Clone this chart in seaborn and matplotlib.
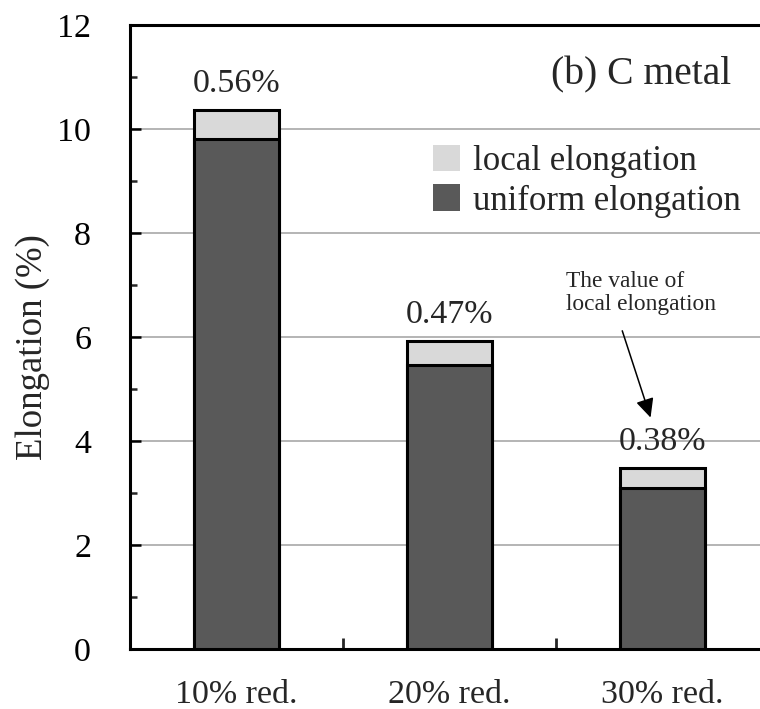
import matplotlib
matplotlib.use("Agg")
import matplotlib.pyplot as plt
from matplotlib.patches import Patch
from matplotlib.ticker import MultipleLocator, FixedLocator
import seaborn as sns

# Elongation after cold reduction, C metal
categories = ["10% red.", "20% red.", "30% red."]
uniform_elongation = [9.80, 5.46, 3.10]
local_elongation = [0.56, 0.47, 0.38]
local_labels = ["0.56%", "0.47%", "0.38%"]
total_elongation = [u + l for u, l in zip(uniform_elongation, local_elongation)]

dark = "#595959"
light = "#d9d9d9"

sns.set_style("white")
plt.rcParams["font.family"] = ["Liberation Serif", "DejaVu Serif"]

fig = plt.figure(figsize=(7.6, 7.09), dpi=100)
ax = fig.add_axes([130 / 760, 1 - 649 / 709, 639 / 760, (649 - 25) / 709])

# Stacked bars: total (light) underneath, uniform part (dark) on top of it
sns.barplot(x=categories, y=total_elongation, color=light, saturation=1,
            width=0.40, edgecolor="black", linewidth=2.2, ax=ax, zorder=2)
sns.barplot(x=categories, y=uniform_elongation, color=dark, saturation=1,
            width=0.40, edgecolor="black", linewidth=2.2, ax=ax, zorder=3)

ax.set_xlim(-0.5, 2.5)
ax.set_ylim(0, 12)
ax.yaxis.set_major_locator(MultipleLocator(2))
ax.yaxis.set_minor_locator(MultipleLocator(1))
ax.xaxis.set_minor_locator(FixedLocator([0.5, 1.5]))

ax.grid(axis="y", which="major", color="#a0a0a0", linewidth=1.1, zorder=0)
ax.set_axisbelow(True)

for side in ["left", "bottom", "top"]:
    ax.spines[side].set_visible(True)
    ax.spines[side].set_color("black")
    ax.spines[side].set_linewidth(2.2)
ax.spines["right"].set_visible(False)

ax.tick_params(axis="y", which="major", direction="in", length=8, width=1.8,
               labelsize=24.5, pad=28, left=True, colors="black")
ax.tick_params(axis="y", which="minor", direction="in", length=5, width=1.8,
               left=True)
ax.tick_params(axis="x", which="major", length=0, labelsize=24.5, pad=22)
ax.tick_params(axis="x", which="minor", direction="in", length=8, width=2,
               bottom=True)

ax.set_xlabel("")
ax.set_ylabel("Elongation (%)", fontsize=26.5)
ax.yaxis.set_label_coords(-0.125, 0.484)

# Local elongation values above each bar
for i, (tot, lab) in enumerate(zip(total_elongation, local_labels)):
    ax.annotate(lab, xy=(i, tot), xytext=(0, 13), textcoords="offset points",
                ha="center", va="baseline", fontsize=24.5)

ax.text(1.90, 10.85, "(b) C metal", ha="center", va="baseline", fontsize=28.5)

ax.annotate("", xy=(1.948, 4.40), xytext=(1.807, 6.17),
            arrowprops=dict(arrowstyle="-|>,head_length=1.15,head_width=0.55",
                            color="black", lw=1.1))
ax.text(1.549, 6.52, "The value of\nlocal elongation", ha="left",
        va="baseline", fontsize=16.8, linespacing=1.15)

handles = [Patch(facecolor=light, edgecolor="none", label="local elongation"),
           Patch(facecolor=dark, edgecolor="none", label="uniform elongation")]
fig.legend(handles=handles, loc="upper left",
           bbox_to_anchor=(433 / 760, 1 - 145 / 709), frameon=False,
           fontsize=25, borderpad=0, borderaxespad=0, handlelength=0.78,
           handleheight=0.78, handletextpad=0.36, labelspacing=0.18)

fig.savefig("out.png", dpi=100)
